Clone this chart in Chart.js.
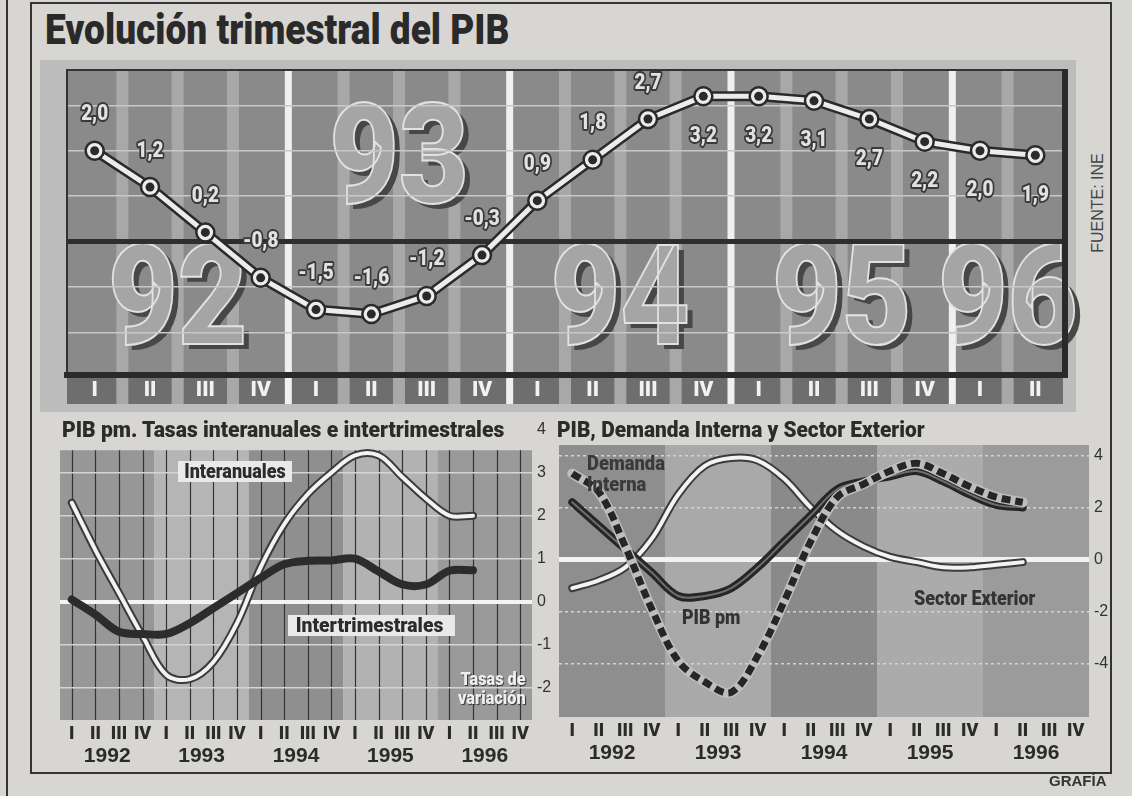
<!DOCTYPE html>
<html lang="es">
<head>
<meta charset="utf-8">
<title>Evolución trimestral del PIB</title>
<script src="https://cdn.jsdelivr.net/npm/chart.js@4.4.1/dist/chart.umd.min.js"></script>
<style>
  body { margin: 0; background: #d7d6d2; }
  #page { position: relative; width: 1132px; height: 796px; overflow: hidden;
          font-family: "Liberation Sans", Arial, sans-serif; color: #2b2b2b; }
  .cond { font-family: Roboto, "Liberation Sans", sans-serif; font-weight: 900; transform-origin: left top; }
  canvas { position: absolute; }
  .txt { position: absolute; white-space: nowrap; }
  #frame { position: absolute; left: 30px; top: 2px; width: 1078px; height: 768px; border: 2px solid #333; }
  #edge { position: absolute; left: 6px; top: 0; width: 2px; height: 796px; background: #333; }
</style>
</head>
<body>
<div id="page">
  <div id="edge"></div>
  <div id="frame"></div>

  <div class="txt cond" data-w="465" style="left:45px; top:5px; font-size:42px; color:#2a2a2a;">Evolución trimestral del PIB</div>
  <div class="txt" style="left:1098px; top:203px; font-size:16px; color:#444; transform:translate(-50%,-50%) rotate(-90deg);">FUENTE: INE</div>

  <canvas id="chartPib" width="1060" height="365" style="left:30px; top:55px;"></canvas>
  <canvas id="chartTasas" width="520" height="362" style="left:40px; top:415px;"></canvas>
  <canvas id="chartDemanda" width="575" height="362" style="left:545px; top:415px;"></canvas>

  <div class="txt cond" data-w="442" style="left:62px; top:417px; font-size:22px;">PIB pm. Tasas interanuales e intertrimestrales</div>
  <div class="txt cond" data-w="368" style="left:557px; top:417px; font-size:22px;">PIB, Demanda Interna y Sector Exterior</div>

  <div class="txt cond" data-w="114" style="left:178px; top:461px; font-size:20px; background:#e9e9e9; padding:0 7px; line-height:21px;">Interanuales</div>
  <div class="txt cond" data-w="167" style="left:288px; top:615px; font-size:20px; background:#e9e9e9; padding:0 12px 0 8px; line-height:21px;">Intertrimestrales</div>
  <div class="txt cond" data-w="68" style="left:458px; top:669px; font-size:18px; line-height:19px; text-align:right; color:#efefef; text-shadow:1px 1px 1px #333;">Tasas de<br>variación</div>

  <div class="txt cond" data-w="78" style="left:587px; top:453px; font-size:20px; line-height:21px; color:#3a3a3a;">Demanda<br>Interna</div>
  <div class="txt cond" data-w="58" style="left:682px; top:605px; font-size:20px; color:#333;">PIB pm</div>
  <div class="txt cond" data-w="121" style="left:914px; top:586px; font-size:20px; color:#333;">Sector Exterior</div>

  <div class="txt" style="left:1049px; top:772px; font-size:15px; font-weight:bold; color:#333;">GRAFÍA</div>
</div>

<script>
// datos
const quarters = ['I', 'II', 'III', 'IV'];
const years = ['1992', '1993', '1994', '1995', '1996'];
const quarterLabels = years.flatMap(y => quarters.map(q => y + ' ' + q));
const topLabels = quarterLabels.slice(0, 18);
const bigYears = ['92', '93', '94', '95', '96'];

const pibTrimestral = [2.0, 1.2, 0.2, -0.8, -1.5, -1.6, -1.2, -0.3, 0.9, 1.8, 2.7, 3.2, 3.2, 3.1, 2.7, 2.2, 2.0, 1.9];

const interanuales = [2.3, 1.2, 0.2, -0.8, -1.7, -1.8, -1.4, -0.5, 0.8, 1.8, 2.5, 3.0, 3.4, 3.4, 2.9, 2.4, 2.0, 2.0];
const intertrimestrales = [0.05, -0.3, -0.7, -0.75, -0.75, -0.5, -0.15, 0.2, 0.55, 0.87, 0.95, 0.96, 1.0, 0.7, 0.4, 0.4, 0.72, 0.73];

const pibPm = [2.2, 1.3, 0.4, -0.5, -1.4, -1.4, -1.1, -0.3, 0.7, 1.7, 2.7, 3.0, 3.2, 3.4, 3.0, 2.5, 2.1, 2.0];
const demandaInterna = [3.3, 2.6, 0.5, -1.9, -3.9, -4.7, -5.1, -3.7, -1.6, 0.7, 2.4, 2.9, 3.4, 3.7, 3.3, 2.8, 2.4, 2.2];
const sectorExterior = [-1.1, -0.8, -0.3, 0.8, 2.5, 3.6, 3.9, 3.8, 3.1, 2.0, 1.1, 0.5, 0.1, -0.1, -0.3, -0.3, -0.2, -0.1];

const COND = 'Roboto, "Liberation Sans", sans-serif';
const SANS = '"Liberation Sans", Arial, sans-serif';

// estrechar los textos html al ancho del original
function fitTexts() {
  document.querySelectorAll('[data-w]').forEach(el => {
    el.style.transform = 'none';
    const s = +el.dataset.w / el.offsetWidth;
    el.style.transform = 'scaleX(' + s.toFixed(3) + ')';
  });
}
fitTexts();
if (document.fonts) document.fonts.ready.then(fitTexts);

function roman(v) {
  return this.getLabelForValue(v).split(' ')[1];
}

// fondo del grafico grande
const topDeco = {
  id: 'topDeco',
  beforeDraw(chart) {
    const { ctx, chartArea: a, scales: { x, y } } = chart;
    ctx.save();
    ctx.fillStyle = '#bcbcbc';
    ctx.fillRect(a.left - 27, a.top - 10, a.width + 40, a.height + 48);
    ctx.fillStyle = '#8a8a8a';
    ctx.fillRect(a.left, a.top, a.width, a.height);
    ctx.fillStyle = '#6e6e6e';
    ctx.fillRect(a.left, a.bottom, a.width, 30);

    for (let i = 0; i < topLabels.length - 1; i++) {
      const xm = (x.getPixelForValue(i) + x.getPixelForValue(i + 1)) / 2;
      if ((i + 1) % 4 === 0) {
        ctx.fillStyle = '#f0f0f0';
        ctx.fillRect(xm - 3.5, a.top, 7, a.height + 30);
      } else {
        ctx.fillStyle = '#a8a8a8';
        ctx.fillRect(xm - 6, a.top, 12, a.height + 30);
      }
    }

    ctx.font = '900 140px ' + COND;
    ctx.textAlign = 'center';
    ctx.textBaseline = 'alphabetic';
    bigYears.forEach((t, k) => {
      const i0 = k * 4, i1 = Math.min(k * 4 + 3, topLabels.length - 1);
      const cx = (x.getPixelForValue(i0) + x.getPixelForValue(i1)) / 2;
      const by = y.getPixelForValue(k === 1 ? 0.85 : -2.25);
      ctx.save();
      ctx.translate(cx, by);
      ctx.scale(0.86, 1);
      ctx.fillStyle = '#474747';
      ctx.fillText(t, 7, 5);
      ctx.fillStyle = '#a5a5a5';
      ctx.fillText(t, 0, 0);
      ctx.strokeStyle = '#e2e2e2';
      ctx.lineWidth = 2;
      ctx.strokeText(t, 0, 0);
      ctx.restore();
    });
    ctx.restore();
  },
  beforeDatasetsDraw(chart) {
    const { ctx, chartArea: a } = chart;
    ctx.save();
    ctx.strokeStyle = '#333';
    ctx.lineWidth = 2;
    ctx.strokeRect(a.left, a.top, a.width, a.height);
    ctx.fillStyle = '#2a2a2a';
    ctx.fillRect(a.left - 3, a.bottom - 2, a.width + 8, 6);
    ctx.fillRect(a.right - 1, a.top - 1, 6, a.height + 3);
    ctx.restore();
  },
  afterDatasetsDraw(chart) {
    const { ctx } = chart;
    const meta = chart.getDatasetMeta(1);
    ctx.save();
    ctx.font = '900 22px ' + COND;
    ctx.textAlign = 'center';
    ctx.textBaseline = 'middle';
    ctx.lineJoin = 'round';
    meta.data.forEach((pt, i) => {
      const txt = pibTrimestral[i].toFixed(1).replace('.', ',');
      const ty = i >= 11 ? pt.y + 40 : pt.y - 36;
      ctx.save();
      ctx.translate(pt.x, ty);
      ctx.scale(0.86, 1);
      ctx.lineWidth = 4;
      ctx.strokeStyle = '#3a3a3a';
      ctx.strokeText(txt, 0, 0);
      ctx.fillStyle = '#e2e2e2';
      ctx.fillText(txt, 0, 0);
      ctx.restore();
    });
    ctx.restore();
  }
};

new Chart(document.getElementById('chartPib'), {
  type: 'line',
  data: {
    labels: topLabels,
    datasets: [
      { data: pibTrimestral, showLine: false, pointRadius: 4.5, pointBackgroundColor: '#2a2a2a', pointBorderWidth: 0, order: 1 },
      { data: pibTrimestral, borderColor: '#ececec', borderWidth: 5, pointRadius: 9,
        pointBackgroundColor: '#ececec', pointBorderColor: '#2a2a2a', pointBorderWidth: 2.5, order: 2 },
      { data: pibTrimestral, borderColor: '#2a2a2a', borderWidth: 10, pointRadius: 0, order: 3 }
    ]
  },
  options: {
    responsive: false,
    animation: false,
    layout: { padding: { left: 37, right: 27, top: 15, bottom: 16 } },
    elements: { line: { tension: 0, fill: false, borderJoinStyle: 'round' } },
    plugins: { legend: { display: false }, tooltip: { enabled: false } },
    scales: {
      x: {
        offset: true,
        grid: { display: false, drawTicks: false },
        border: { display: false },
        ticks: { callback: roman, color: '#f2f2f2', font: { family: COND, weight: '900', size: 21, lineHeight: 1 }, padding: 6, autoSkip: false, maxRotation: 0 },
        afterFit: s => { s.height = 30; }
      },
      y: {
        min: -2.92,
        max: 3.78,
        afterBuildTicks: s => { s.ticks = [-2, -1, 0, 1, 2, 3].map(v => ({ value: v })); },
        grid: {
          drawTicks: false,
          color: c => c.tick && c.tick.value === 0 ? '#2e2e2e' : '#c8c8c8',
          lineWidth: c => c.tick && c.tick.value === 0 ? 5 : 1.5
        },
        border: { display: false },
        ticks: { display: false },
        afterFit: s => { s.width = 0; }
      }
    }
  },
  plugins: [topDeco]
});

// bandas por año en los graficos pequeños
function yearBands(colors, topValue, vlineColor) {
  return {
    id: 'yearBands',
    beforeDraw(chart) {
      const { ctx, chartArea: a, scales: { x, y } } = chart;
      const half = (x.getPixelForValue(1) - x.getPixelForValue(0)) / 2;
      const top = y.getPixelForValue(topValue);
      ctx.save();
      years.forEach((yr, k) => {
        const x0 = k === 0 ? a.left : x.getPixelForValue(k * 4) - half;
        const x1 = k === years.length - 1 ? a.right : x.getPixelForValue(k * 4 + 3) + half;
        ctx.fillStyle = colors[k];
        ctx.fillRect(x0, top, x1 - x0, a.bottom - top);
      });
      if (vlineColor) {
        ctx.strokeStyle = vlineColor;
        ctx.lineWidth = 1.2;
        quarterLabels.forEach((q, i) => {
          const px = Math.round(x.getPixelForValue(i)) + 0.5;
          ctx.beginPath();
          ctx.moveTo(px, top);
          ctx.lineTo(px, a.bottom);
          ctx.stroke();
        });
      }
      ctx.restore();
    }
  };
}

function bottomScales(yOpts) {
  return {
    x: {
      offset: true,
      grid: { display: false, drawTicks: false },
      border: { display: false },
      ticks: { callback: roman, color: '#2b2b2b', font: { family: COND, weight: '900', size: 18, lineHeight: 1 }, padding: 5, autoSkip: false, maxRotation: 0 },
      afterFit: s => { s.height = 24; }
    },
    x2: {
      type: 'category',
      labels: years,
      offset: true,
      position: 'bottom',
      grid: { display: false, drawTicks: false },
      border: { display: false },
      ticks: { color: '#2b2b2b', font: { family: SANS, weight: 'bold', size: 21, lineHeight: 1 }, padding: 2 },
      afterFit: s => { s.height = 30; }
    },
    y: Object.assign({
      position: 'right',
      border: { display: false },
      ticks: { color: '#333', font: { family: SANS, size: 16 }, padding: 5 },
      afterFit: s => { s.width = 22; }
    }, yOpts)
  };
}

new Chart(document.getElementById('chartTasas'), {
  type: 'line',
  data: {
    labels: quarterLabels,
    datasets: [
      { data: intertrimestrales, borderColor: '#2c2c2c', borderWidth: 8, order: 1 },
      { data: interanuales, borderColor: '#f3f3f3', borderWidth: 4, order: 2 },
      { data: interanuales, borderColor: '#3b3b3b', borderWidth: 8, order: 3 }
    ]
  },
  options: {
    responsive: false,
    animation: false,
    layout: { padding: { left: 20, right: 6, top: 9, bottom: 3 } },
    elements: { point: { radius: 0 }, line: { tension: 0.35, fill: false, borderCapStyle: 'round', borderJoinStyle: 'round' } },
    plugins: { legend: { display: false }, tooltip: { enabled: false } },
    scales: bottomScales({
      min: -2.75,
      max: 4,
      afterBuildTicks: s => { s.ticks = [-2, -1, 0, 1, 2, 3, 4].map(v => ({ value: v })); },
      grid: {
        drawTicks: false,
        color: c => !c.tick ? 'transparent' : c.tick.value === 4 ? 'transparent' : c.tick.value === 0 ? '#f4f4f4' : '#d4d4d4',
        lineWidth: c => c.tick && c.tick.value === 0 ? 4 : 1.5
      }
    })
  },
  plugins: [yearBands(['#979797', '#b5b5b5', '#8f8f8f', '#b2b2b2', '#9a9a9a'], 3.52, '#333')]
});

new Chart(document.getElementById('chartDemanda'), {
  type: 'line',
  data: {
    labels: quarterLabels,
    datasets: [
      { data: demandaInterna, borderColor: '#262626', borderWidth: 7, borderDash: [9, 5], borderCapStyle: 'butt', order: 1 },
      { data: demandaInterna, borderColor: '#bdbdbd', borderWidth: 10, order: 2 },
      { data: pibPm, borderColor: '#6e6e6e', borderWidth: 2, order: 3 },
      { data: pibPm, borderColor: '#262626', borderWidth: 8, order: 4 },
      { data: sectorExterior, borderColor: '#f3f3f3', borderWidth: 4, order: 5 },
      { data: sectorExterior, borderColor: '#3b3b3b', borderWidth: 8, order: 6 }
    ]
  },
  options: {
    responsive: false,
    animation: false,
    layout: { padding: { left: 14, right: 9, top: 30, bottom: 6 } },
    elements: { point: { radius: 0 }, line: { tension: 0.35, fill: false, borderCapStyle: 'round', borderJoinStyle: 'round' } },
    plugins: { legend: { display: false }, tooltip: { enabled: false } },
    scales: bottomScales({
      min: -6.05,
      max: 4.4,
      afterBuildTicks: s => { s.ticks = [-4, -2, 0, 2, 4].map(v => ({ value: v })); },
      grid: {
        drawTicks: false,
        color: c => c.tick && c.tick.value === 0 ? '#f2f2f2' : '#d2d2d2',
        lineWidth: c => c.tick && c.tick.value === 0 ? 5 : 1.5
      },
      border: { display: false, dash: c => c.tick && c.tick.value === 0 ? [] : [3, 3] }
    })
  },
  plugins: [yearBands(['#8e8e8e', '#a9a9a9', '#8a8a8a', '#ababab', '#9b9b9b'], 4.4, null)]
});
</script>
</body>
</html>
